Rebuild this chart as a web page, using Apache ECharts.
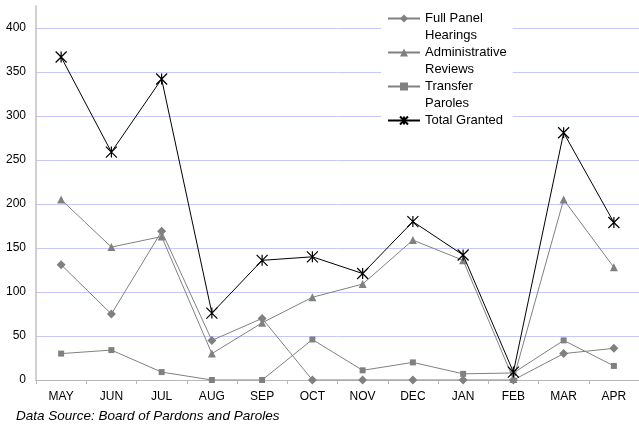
<!DOCTYPE html>
<html><head><meta charset="utf-8">
<script src="https://cdn.jsdelivr.net/npm/echarts@6/dist/echarts.min.js"></script>
<style>html,body{margin:0;padding:0;background:#fff}#c{width:639px;height:425px}</style>
</head><body><div id="c"></div>
<script>
const months = ['MAY','JUN','JUL','AUG','SEP','OCT','NOV','DEC','JAN','FEB','MAR','APR'];
const fullPanel = [131,75,169,45,70,0,0,0,0,0,30,36];
const adminReviews = [205,151,163,30,65,94,109,159,136,1,205,128];
const transferParoles = [30,34,9,0,0,46,11,20,7,8,45,16];
const totalGranted = [367,259,342,76,136,140,121,180,142,9,281,179];
const yTicks = [0,50,100,150,200,250,300,350,400];
const seriesNames = ['Full Panel Hearings','Administrative Reviews','Transfer Paroles','Total Granted'];
const legendLines = [['Full Panel','Hearings'],['Administrative','Reviews'],['Transfer','Paroles'],['Total Granted']];
const sourceNote = 'Data Source: Board of Pardons and Paroles';

const grey = '#808080';
const chart = echarts.init(document.getElementById('c'));
const star = 'path://M0,0L10,10M10,0L0,10M5,0L5,10';
function lineSeries(name, data, symbol, size, color, z) {
  return {
    name, type: 'line', data, symbol, symbolSize: size, z,
    lineStyle: {color, width: 1},
    itemStyle: {color, borderColor: color, borderWidth: symbol === star ? 1.2 : 0},
    emphasis: {disabled: true}
  };
}
// three text lines per item, with the first visible line in the middle (next to the icon)
function legendText(name) {
  const lines = legendLines[seriesNames.indexOf(name)];
  return ['\u00a0', lines[0], lines[1] || '\u00a0'].join('\n');
}
chart.setOption({
  animation: false,
  title: {
    text: sourceNote, left: 16, top: 409, padding: 0,
    textStyle: {fontFamily: 'Liberation Sans', fontStyle: 'italic', fontWeight: 'normal', fontSize: 13.5, color: '#000'}
  },
  legend: {
    orient: 'vertical', left: 381, top: -7,
    padding: [0, 6, 0, 6],
    backgroundColor: '#fff',
    itemGap: -17, itemWidth: 32, itemHeight: 10,
    textStyle: {fontFamily: 'Liberation Sans', fontSize: 13, color: '#000', lineHeight: 17},
    formatter: legendText,
    data: seriesNames
  },
  grid: {left: 36, top: 6, width: 607, bottom: 45},
  xAxis: {
    type: 'category', data: months, boundaryGap: true,
    axisLine: {lineStyle: {color: '#b8b8b8', width: 1}},
    axisTick: {show: true, length: 4, lineStyle: {color: '#b8b8b8'}},
    axisLabel: {fontFamily: 'Liberation Sans', fontSize: 12, color: '#000', margin: 11}
  },
  yAxis: {
    type: 'value', min: 0, max: 425, interval: 50,
    axisLine: {show: true, lineStyle: {color: '#c0c0c0', width: 1.5}},
    axisTick: {show: false},
    axisLabel: {fontFamily: 'Liberation Sans', fontSize: 12, color: '#000', margin: 10, showMaxLabel: false,
      formatter: v => yTicks.includes(v) ? String(v) : ''},
    splitLine: {show: true, showMinLine: false, showMaxLine: false, lineStyle: {color: '#c8c8f8', width: 1}}
  },
  series: [
    lineSeries(seriesNames[0], fullPanel, 'diamond', 9, grey, 2),
    lineSeries(seriesNames[1], adminReviews, 'triangle', 8, grey, 3),
    lineSeries(seriesNames[2], transferParoles, 'rect', 6, grey, 4),
    lineSeries(seriesNames[3], totalGranted, star, [11, 11], '#000', 5)
  ]
});
</script></body></html>
